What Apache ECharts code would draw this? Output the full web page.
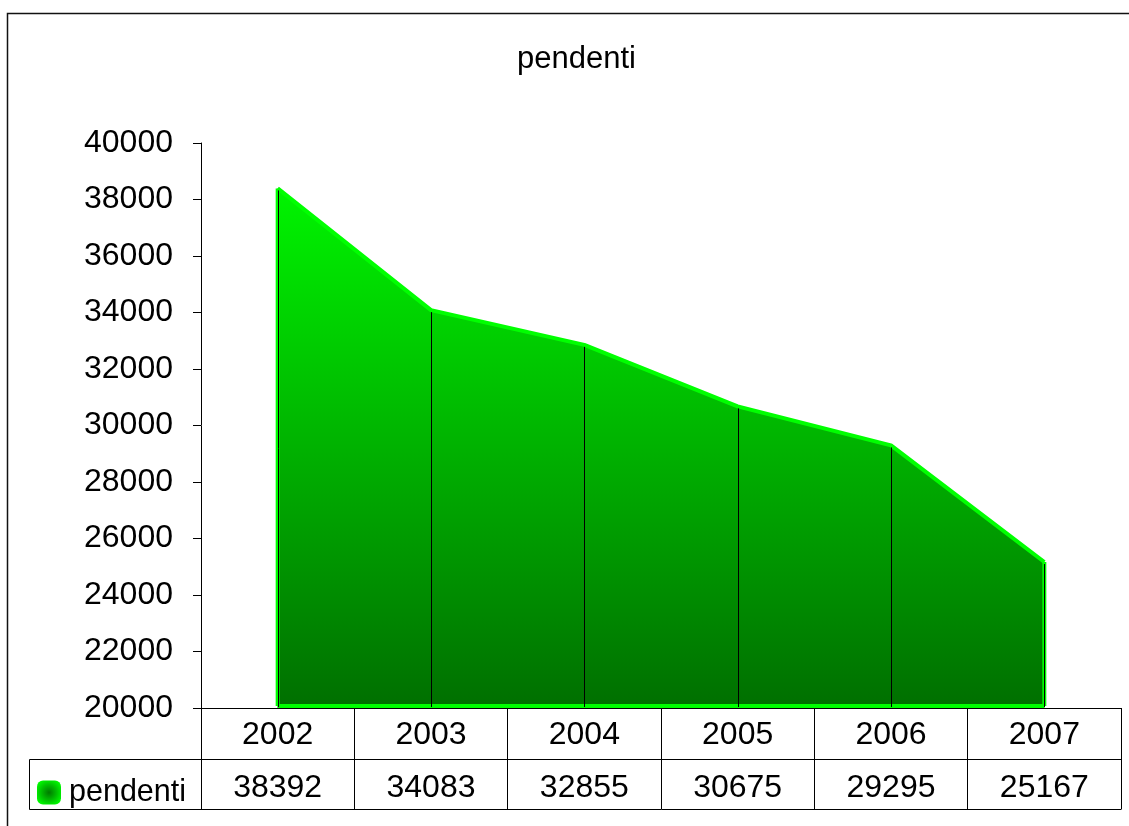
<!DOCTYPE html>
<html>
<head>
<meta charset="utf-8">
<script src="https://cdn.jsdelivr.net/npm/echarts@6/dist/echarts.min.js"></script>
<style>
html,body{margin:0;padding:0;background:#fff;}
#chart{width:1129px;height:826px;}
</style>
</head>
<body>
<div id="chart"></div>
<script>
var titleText = 'pendenti';
var seriesName = 'pendenti';
var categories = ['2002', '2003', '2004', '2005', '2006', '2007'];
var values = [38392, 34083, 32855, 30675, 29295, 25167];
var yMin = 20000, yMax = 40000, yStep = 2000;

var FONT = '"Liberation Sans", Arial, sans-serif';
var chart = echarts.init(document.getElementById('chart'));

var areaGradient = new echarts.graphic.LinearGradient(0, 0, 0, 1, [
  {offset: 0, color: '#00f400'},
  {offset: 1, color: '#006f00'}
]);

var option = {
  animation: false,
  backgroundColor: '#fff',
  title: {
    text: titleText,
    left: 512, top: 39,
    textStyle: {fontFamily: FONT, fontSize: 31, fontWeight: 'normal', color: '#000'}
  },
  legend: {
    data: [{name: seriesName, icon: 'roundRect',
      itemStyle: {color: new echarts.graphic.RadialGradient(0.5, 0.5, 0.6, [
        {offset: 0, color: '#007a00'}, {offset: 0.55, color: '#00c000'}, {offset: 1, color: '#00ff00'}])}}],
    left: 32, top: 772,
    itemWidth: 24, itemHeight: 24,
    textStyle: {fontFamily: FONT, fontSize: 30.5, color: '#000', padding: [0, 0, 0, 3]}
  },
  grid: {left: 201, right: 8, top: 143, bottom: 118},
  xAxis: [{
    type: 'category',
    data: categories,
    boundaryGap: true,
    axisLine: {show: true, lineStyle: {color: '#000', width: 1}},
    axisTick: {show: true, length: 101, lineStyle: {color: '#000', width: 1}},
    axisLabel: {fontFamily: FONT, fontSize: 32, color: '#000', margin: 11},
    splitLine: {show: false}
  }, {
    type: 'category',
    position: 'bottom',
    offset: 51,
    data: values.map(function (v) { return String(v); }),
    boundaryGap: true,
    axisLine: {show: true, lineStyle: {color: '#000', width: 1}},
    axisTick: {show: false},
    axisLabel: {fontFamily: FONT, fontSize: 32, color: '#000', margin: 13},
    splitLine: {show: false}
  }],
  yAxis: {
    type: 'value',
    min: yMin, max: yMax, interval: yStep,
    axisLine: {show: true, lineStyle: {color: '#000', width: 1}},
    axisTick: {show: true, length: 8, lineStyle: {color: '#000', width: 1}},
    axisLabel: {fontFamily: FONT, fontSize: 32, color: '#000', margin: 28,
      formatter: function (v) { return String(v); }},
    splitLine: {show: false}
  },
  series: [{
    name: seriesName,
    type: 'line',
    data: values,
    symbol: 'none',
    itemStyle: {color: '#00ff00'},
    lineStyle: {color: '#00ff00', width: 4},
    areaStyle: {color: areaGradient, opacity: 1},
    z: 2
  }, {
    name: 'drops',
    type: 'custom',
    data: values.map(function (v, i) { return [i, v]; }),
    encode: {x: 0, y: 1},
    silent: true,
    z: 3,
    renderItem: function (params, api) {
      var i = api.value(0), v = api.value(1);
      var top = api.coord([i, v]);
      var bot = api.coord([i, yMin]);
      var children = [];
      var n = values.length;
      if (i === 0 || i === n - 1) {
        children.push({type: 'line', shape: {x1: top[0], y1: top[1], x2: bot[0], y2: bot[1] - 2},
          style: {stroke: '#00ff00', lineWidth: 4}});
      }
      if (i === 0) {
        var endB = api.coord([n - 1, yMin]);
        children.push({type: 'line', shape: {x1: bot[0], y1: bot[1] - 2, x2: endB[0], y2: endB[1] - 2},
          style: {stroke: '#00ff00', lineWidth: 4}});
      }
      children.push({type: 'line', shape: {x1: Math.round(top[0]) + 0.5, y1: top[1] + 2, x2: Math.round(bot[0]) + 0.5, y2: bot[1] - 1},
        style: {stroke: '#000', lineWidth: 1}});
      return {type: 'group', children: children};
    }
  }],
  graphic: [
    {type: 'rect', shape: {x: 7.5, y: 13.5, width: 1140, height: 830},
      style: {fill: 'none', stroke: '#111', lineWidth: 1.5}, silent: true, z: 0},
    {type: 'rect', shape: {x: 29.5, y: 759.5, width: 172, height: 50},
      style: {fill: 'none', stroke: '#000', lineWidth: 1}, silent: true},
    {type: 'line', shape: {x1: 201, y1: 809.5, x2: 1121.5, y2: 809.5},
      style: {stroke: '#000', lineWidth: 1}, silent: true}
  ]
};
chart.setOption(option);
</script>
</body>
</html>
